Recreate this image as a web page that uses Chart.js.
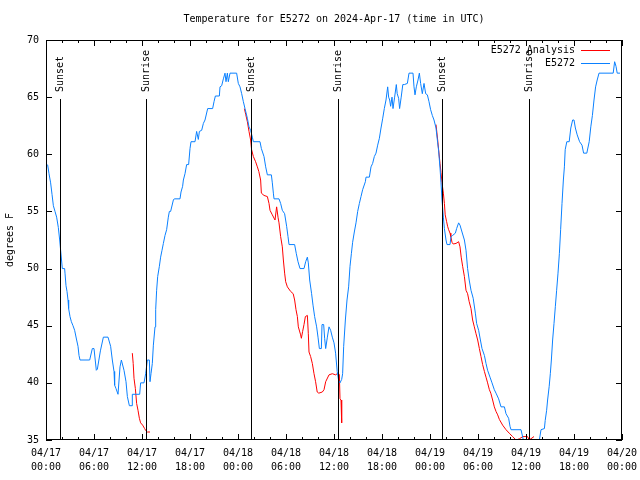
<!DOCTYPE html>
<html>
<head>
<meta charset="utf-8">
<script src="https://cdn.jsdelivr.net/npm/chart.js@4"></script>
<style>
  html, body { margin: 0; padding: 0; background: #fff; }
  canvas { display: block; }
</style>
</head>
<body>
<canvas id="tempChart" width="640" height="480"></canvas>
<script>
(function() {
  var ctx = document.getElementById('tempChart');
  if (!ctx) return;

  var titleText = 'Temperature for E5272 on 2024-Apr-17 (time in UTC)';
  var yTitle = 'degrees F';
  var monoFont = '"DejaVu Sans Mono", "Liberation Mono", monospace';
  var blueColor = '#0a80ff';
  var redColor = '#ff0000';

  /* x axis: hours since 04/17 00:00 UTC */
  var xTickDates = ['04/17', '04/17', '04/17', '04/17', '04/18', '04/18', '04/18',
                    '04/18', '04/19', '04/19', '04/19', '04/19', '04/20'];
  var xTickTimes = ['00:00', '06:00', '12:00', '18:00', '00:00', '06:00', '12:00',
                    '18:00', '00:00', '06:00', '12:00', '18:00', '00:00'];

  /* sunset / sunrise markers */
  var eventHours  = [1.7, 12.55, 25.6, 36.55, 49.55, 60.4];
  var eventLabels = ['Sunset', 'Sunrise', 'Sunset', 'Sunrise', 'Sunset', 'Sunrise'];

  var blueHours = [
    0.2, 0.375, 0.58, 0.75, 0.92, 1.125, 1.33, 1.54, 1.71, 1.83,
    2.04, 2.33, 2.375, 2.5, 2.625, 2.75, 2.83, 3.0, 3.17, 3.375,
    3.58, 3.83, 4.0, 4.125, 4.25, 5.46, 5.79, 6.0, 6.29, 6.42,
    6.8, 7.17, 7.75, 8.08, 8.29, 8.5, 8.58, 8.75, 9.0, 9.25,
    9.42, 9.75, 10.0, 10.17, 10.42, 10.75, 10.79, 11.71, 11.83, 12.25,
    12.46, 12.67, 12.92, 13.0, 13.125, 13.29, 13.42, 13.625, 13.71, 13.83,
    13.96, 14.17, 14.33, 14.5, 14.67, 14.875, 15.08, 15.29, 15.42, 15.58,
    15.92, 16.04, 16.75, 16.875, 17.08, 17.17, 17.375, 17.58, 17.83, 18.0,
    18.125, 18.625, 18.83, 19.04, 19.17, 19.46, 19.67, 19.875, 20.21, 20.83,
    21.0, 21.17, 21.67, 21.75, 21.96, 22.17, 22.375, 22.5, 22.67, 22.79,
    23.0, 23.83, 24.04, 24.25, 24.46, 24.67, 24.875, 25.17, 25.375, 25.58,
    25.79, 25.92, 26.75, 26.92, 27.25, 27.46, 27.67, 28.17, 28.29, 28.42,
    28.5, 29.125, 29.33, 29.54, 29.83, 30.08, 30.25, 30.375, 31.08, 31.29,
    31.5, 31.75, 32.25, 32.46, 32.67, 32.79, 32.96, 33.2, 33.375, 33.58,
    33.83, 34.0, 34.17, 34.42, 34.5, 34.71, 34.83, 34.96, 35.17, 35.375,
    35.58, 35.79, 36.0, 36.2, 36.4, 36.58, 36.75, 36.96, 37.08, 37.21,
    37.42, 37.625, 37.83, 38.0, 38.17, 38.33, 38.54, 38.75, 38.96, 39.17,
    39.375, 39.58, 39.92, 40.0, 40.42, 40.625, 40.83, 41.04, 41.25, 41.46,
    41.67, 41.875, 42.08, 42.29, 42.5, 42.71, 42.83, 42.96, 43.08, 43.25,
    43.375, 43.58, 43.79, 43.9, 44.08, 44.2, 44.4, 44.6, 44.8, 45.17,
    45.375, 45.875, 46.0, 46.125, 46.29, 46.5, 46.67, 46.83, 47.04, 47.25,
    47.46, 47.67, 47.875, 48.08, 48.29, 48.5, 48.75, 48.96, 49.08, 49.25,
    49.375, 49.5, 49.67, 49.8, 50.0, 50.125, 50.5, 50.625, 50.83, 51.17,
    51.33, 51.58, 51.75, 52.0, 52.3, 52.5, 52.7, 52.9, 53.125, 53.4,
    53.67, 53.83, 54.08, 54.3, 54.5, 54.8, 55.0, 55.2, 55.5, 55.75,
    56.04, 56.25, 56.58, 56.875, 57.3, 57.5, 57.83, 58.0, 58.125, 59.375,
    59.67, 59.8, 61.5, 61.67, 61.875, 62.3, 62.4, 62.58, 62.7, 62.9,
    63.04, 63.17, 63.33, 63.5, 63.67, 63.83, 64.0, 64.17, 64.33, 64.5,
    64.67, 64.8, 64.9, 65.1, 65.4, 65.6, 65.83, 66.0, 66.17, 66.4,
    66.7, 67.0, 67.2, 67.6, 67.9, 68.1, 68.3, 68.5, 68.7, 68.9,
    69.125, 70.9, 71.08, 71.25, 71.4, 71.75
  ];
  var blueTemps = [
    59.1, 58.3, 57.5, 56.5, 55.5, 55.0, 54.5, 53.6, 52.5, 51.6,
    50.0, 50.0, 49.6, 48.5, 48.0, 47.25, 46.5, 45.8, 45.35, 45.0,
    44.6, 43.75, 43.2, 42.4, 42.0, 42.0, 43.0, 43.0, 41.1, 41.2,
    42.8, 44.0, 44.0, 43.2, 42.0, 41.0, 39.8, 39.5, 39.0, 41.4,
    42.0, 41.1, 40.1, 38.8, 38.0, 38.0, 39.0, 39.0, 40.0, 40.0,
    40.8, 42.0, 42.0, 40.1, 40.8, 41.7, 43.3, 44.9, 46.4, 48.1,
    49.3, 50.2, 51.0, 51.6, 52.2, 52.9, 53.4, 54.5, 55.0, 55.0,
    56.0, 56.1, 56.1, 56.7, 57.2, 57.75, 58.3, 59.1, 59.1, 60.5,
    61.1, 61.1, 62.0, 61.3, 62.0, 62.1, 62.7, 63.0, 64.0, 64.0,
    64.6, 65.1, 65.1, 65.9, 66.0, 66.6, 67.1, 66.35, 67.1, 66.35,
    67.1, 67.1, 66.2, 65.9, 65.3, 64.6, 64.0, 63.15, 62.4, 62.1,
    61.5, 61.1, 61.1, 60.5, 59.8, 58.9, 58.2, 58.2, 57.5, 56.6,
    56.1, 56.1, 55.7, 55.1, 54.8, 53.7, 52.8, 52.1, 52.1, 51.3,
    50.6, 50.0, 50.0, 50.6, 51.0, 50.5, 49.0, 47.8, 46.8, 45.8,
    44.9, 44.0, 43.0, 43.0, 45.1, 45.1, 43.9, 43.0, 44.0, 44.9,
    44.6, 44.0, 43.5, 42.6, 41.0, 40.2, 40.0, 40.3, 40.8, 43.2,
    45.5, 47.25, 48.4, 50.2, 51.3, 52.3, 53.2, 54.0, 55.0, 55.7,
    56.3, 56.9, 57.6, 58.0, 58.0, 58.9, 59.2, 59.8, 60.1, 60.8,
    61.4, 62.3, 63.1, 64.0, 64.75, 65.9, 65.0, 64.75, 64.2, 65.0,
    64.0, 65.0, 66.1, 65.3, 64.9, 64.0, 65.0, 66.1, 66.1, 66.2,
    67.1, 67.1, 65.9, 65.2, 65.9, 66.5, 67.1, 66.2, 65.3, 66.2,
    65.3, 65.2, 64.6, 63.9, 63.4, 63.0, 62.3, 61.0, 60.3, 58.8,
    57.5, 56.0, 54.5, 53.5, 52.5, 52.1, 52.1, 52.8, 52.9, 53.1,
    53.5, 54.0, 53.8, 53.2, 52.5, 51.6, 50.0, 49.0, 48.1, 47.4,
    46.1, 45.2, 44.6, 43.75, 43.0, 42.4, 41.7, 41.1, 40.5, 40.0,
    39.4, 39.1, 38.6, 37.9, 37.9, 37.3, 36.9, 36.2, 35.9, 35.9,
    35.0, 34.5, 34.5, 35.0, 35.9, 36.0, 36.7, 37.6, 38.5, 39.7,
    40.8, 42.0, 43.75, 45.2, 46.7, 48.1, 49.6, 51.3, 53.4, 55.7,
    57.75, 58.9, 60.4, 61.1, 61.1, 62.3, 63.0, 63.0, 62.3, 61.7,
    61.1, 60.8, 60.1, 60.1, 61.1, 62.4, 63.4, 64.75, 65.9, 66.5,
    67.1, 67.1, 68.1, 67.7, 67.1, 67.1
  ];

  /* E5272 Analysis (three runs, null = gap) */
  var redHours = [
    10.79, 10.9, 11.0, 11.17, 11.33, 11.5, 11.67, 11.83, 12.08, 12.33,
    12.5, 12.67, 13.0, 18.0,
    24.8, 24.96, 25.17, 25.375, 25.58, 25.7, 25.92, 26.2, 26.42, 26.6,
    26.83, 26.92, 27.25, 27.67, 27.875, 28.0, 28.29, 28.625, 28.83, 29.0,
    29.125, 29.33, 29.54, 29.67, 29.83, 29.96, 30.17, 30.58, 30.9, 31.08,
    31.25, 31.42, 31.54, 31.83, 31.92, 32.08, 32.25, 32.42, 32.67, 32.79,
    32.875, 33.08, 33.29, 33.5, 33.7, 33.9, 34.1, 34.54, 34.75, 34.96,
    35.375, 35.79, 36.2, 36.4, 36.6, 36.67, 36.75, 36.875, 36.96, 42.0,
    48.75, 48.96, 49.08, 49.25, 49.375, 49.5, 49.67, 49.8, 49.9, 50.08,
    50.2, 50.33, 50.5, 50.6, 50.75, 50.9, 51.25, 51.58, 51.75, 51.9,
    52.08, 52.3, 52.5, 52.7, 52.9, 53.125, 53.33, 53.54, 53.75, 53.96,
    54.17, 54.375, 54.58, 54.8, 55.0, 55.2, 55.42, 55.6, 55.83, 56.04,
    56.25, 56.46, 56.67, 57.08, 57.5, 57.9, 58.33, 58.75, 59.17, 59.6,
    60.2, 60.4, 61.0
  ];
  var redTemps = [
    42.6, 41.7, 40.4, 39.5, 38.2, 37.6, 36.9, 36.5, 36.3, 36.0,
    35.8, 35.7, 35.7, null,
    64.0, 63.5, 62.85, 62.0, 61.25, 60.4, 59.8, 59.35, 58.9, 58.5,
    57.75, 56.6, 56.4, 56.3, 55.7, 55.1, 54.7, 54.25, 55.4, 54.5,
    54.0, 52.8, 51.9, 50.75, 49.6, 48.85, 48.4, 48.0, 47.8, 47.25,
    46.4, 45.8, 44.9, 44.2, 43.9, 44.5, 45.1, 45.8, 45.9, 44.3,
    42.7, 42.3, 41.7, 40.8, 40.1, 39.2, 39.1, 39.2, 39.4, 40.1,
    40.7, 40.8, 40.7, 40.8, 40.8, 40.7, 38.6, 38.5, 36.5, null,
    62.6, 61.25, 60.4, 59.2, 58.4, 57.5, 56.6, 55.7, 54.7, 54.1,
    53.7, 53.4, 53.1, 52.8, 52.3, 52.15, 52.2, 52.35, 51.9, 51.0,
    50.2, 49.3, 48.1, 47.8, 47.1, 46.5, 45.5, 44.9, 44.3, 43.75,
    43.0, 42.3, 41.6, 41.0, 40.5, 40.0, 39.4, 39.1, 38.5, 37.9,
    37.5, 37.2, 36.8, 36.3, 35.9, 35.6, 35.3, 35.0, 35.1, 35.3,
    35.3, 35.0, 35.3
  ];

  function toPoints(xs, ys) {
    return xs.map(function(x, i) { return { x: x, y: ys[i] }; });
  }

  var gnuplotDecor = {
    id: 'gnuplotDecor',
    afterDatasetsDraw: function(chart) {
      var c = chart.ctx;
      var a = chart.chartArea;
      var xs = chart.scales.x;
      c.save();
      c.strokeStyle = '#000';
      c.lineWidth = 1;
      c.fillStyle = '#000';
      c.font = '10px ' + monoFont;
      eventHours.forEach(function(h, i) {
        var px = Math.round(xs.getPixelForValue(h)) + 0.5;
        c.beginPath();
        c.moveTo(px, a.top + 59);
        c.lineTo(px, a.bottom);
        c.stroke();
        c.save();
        c.translate(px, a.top + 52);
        c.rotate(-Math.PI / 2);
        c.textAlign = 'left';
        c.textBaseline = 'middle';
        c.fillText(eventLabels[i], 0, 0);
        c.restore();
      });
      c.restore();
    },
    afterDraw: function(chart) {
      var c = chart.ctx;
      var a = chart.chartArea;
      var xs = chart.scales.x;
      var ys = chart.scales.y;
      c.save();
      c.strokeStyle = '#000';
      c.fillStyle = '#000';
      c.lineWidth = 1;

      /* frame */
      c.strokeRect(a.left + 0.5, a.top + 0.5, a.right - a.left - 1, a.bottom - a.top - 1);

      /* inward ticks, mirrored */
      c.beginPath();
      for (var h = 0; h <= 72; h += 2) {
        var px = Math.round(xs.getPixelForValue(h)) + 0.5;
        var len = (h % 6 === 0) ? 6 : 3;
        c.moveTo(px, a.bottom); c.lineTo(px, a.bottom - len);
        c.moveTo(px, a.top); c.lineTo(px, a.top + len);
      }
      for (var t = 35; t <= 70; t += 5) {
        var py = Math.round(ys.getPixelForValue(t)) + 0.5;
        c.moveTo(a.left, py); c.lineTo(a.left + 6, py);
        c.moveTo(a.right, py); c.lineTo(a.right - 6, py);
      }
      c.stroke();

      /* title and y title */
      c.font = '10px ' + monoFont;
      c.textAlign = 'center';
      c.textBaseline = 'middle';
      c.fillText(titleText, (a.left + a.right) / 2, 19);
      c.save();
      c.translate(10, (a.top + a.bottom) / 2);
      c.rotate(-Math.PI / 2);
      c.fillText(yTitle, 0, 0);
      c.restore();

      /* legend */
      var legend = [
        { label: 'E5272 Analysis', color: redColor },
        { label: 'E5272', color: blueColor }
      ];
      legend.forEach(function(item, i) {
        var ly = 50 + i * 13;
        c.textAlign = 'right';
        c.fillStyle = '#000';
        c.fillText(item.label, 575, ly);
        c.strokeStyle = item.color;
        c.beginPath();
        c.moveTo(581, ly + 0.5);
        c.lineTo(610, ly + 0.5);
        c.stroke();
      });
      c.restore();
    }
  };

  new Chart(ctx, {
    type: 'line',
    data: {
      datasets: [
        {
          label: 'E5272',
          data: toPoints(blueHours, blueTemps),
          borderColor: blueColor,
          borderWidth: 1,
          pointRadius: 0,
          tension: 0,
          fill: false
        },
        {
          label: 'E5272 Analysis',
          data: toPoints(redHours, redTemps),
          borderColor: redColor,
          borderWidth: 1,
          pointRadius: 0,
          tension: 0,
          spanGaps: false,
          fill: false
        }
      ]
    },
    options: {
      responsive: false,
      animation: false,
      layout: { padding: { top: 40, right: 18, bottom: 0, left: 0 } },
      plugins: {
        legend: { display: false },
        title: { display: false },
        tooltip: { enabled: false }
      },
      scales: {
        x: {
          type: 'linear',
          min: 0,
          max: 72,
          grid: { display: false, drawTicks: false, tickLength: 0 },
          border: { display: false },
          ticks: {
            stepSize: 6,
            autoSkip: false,
            maxRotation: 0,
            padding: 6,
            color: '#000',
            font: { size: 10, family: monoFont, lineHeight: 1.4 },
            callback: function(value) {
              var i = Math.round(value / 6);
              return [xTickDates[i], xTickTimes[i]];
            }
          },
          afterFit: function(scale) {
            scale.height = 40;
            scale.paddingRight = 0;
          }
        },
        y: {
          min: 35,
          max: 70,
          grid: { display: false, drawTicks: false, tickLength: 0 },
          border: { display: false },
          ticks: {
            stepSize: 5,
            padding: 7,
            color: '#000',
            font: { size: 10, family: monoFont }
          },
          afterFit: function(scale) { scale.width = 46; }
        }
      }
    },
    plugins: [gnuplotDecor]
  });
})();
</script>
</body>
</html>
